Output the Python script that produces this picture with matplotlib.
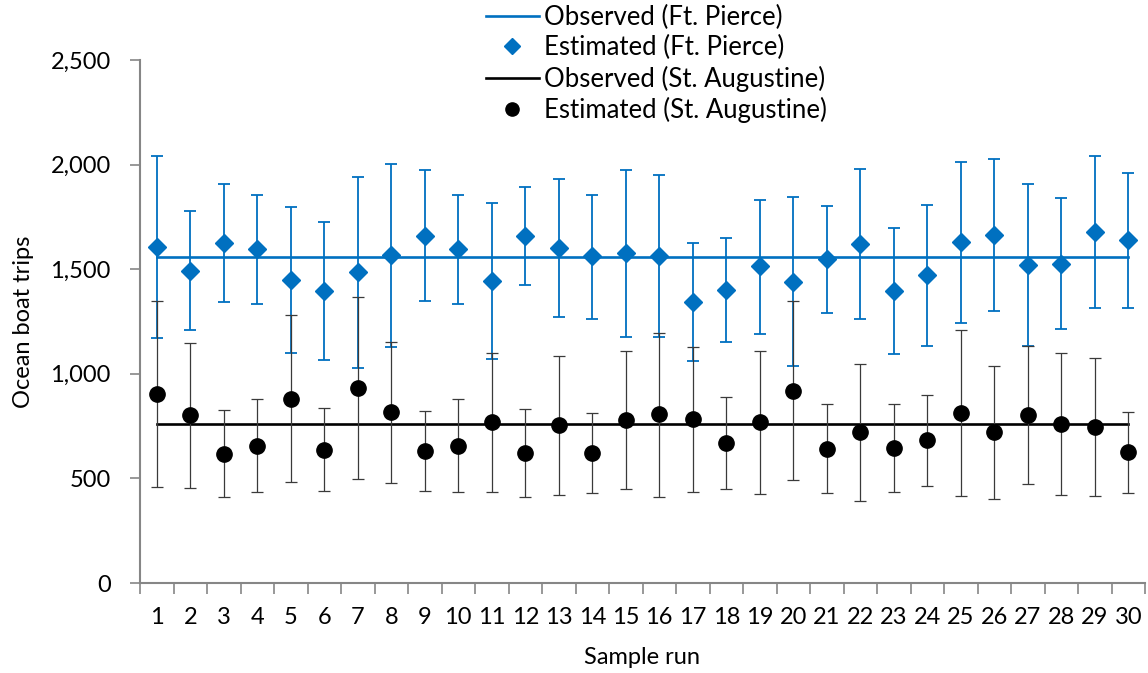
"""
Ocean boat trips: observed vs estimated for Ft. Pierce and St. Augustine
over 30 sample runs, with error bars on the estimates.
"""
import numpy as np
import matplotlib
matplotlib.use("Agg")
import matplotlib.pyplot as plt
from matplotlib.lines import Line2D
from matplotlib.ticker import FuncFormatter

plt.rcParams['font.family'] = ['Lato', 'DejaVu Sans']

runs = np.arange(1, 31)

# Ft. Pierce
fp_observed = 1558
fp_est = [1607, 1491, 1625, 1595, 1447, 1396, 1486, 1566, 1658, 1595,
          1444, 1661, 1601, 1561, 1577, 1564, 1342, 1401, 1513, 1440,
          1547, 1622, 1397, 1471, 1630, 1663, 1520, 1526, 1680, 1639]
fp_low = [1173, 1210, 1343, 1335, 1099, 1067, 1030, 1130, 1347, 1335,
          1073, 1426, 1273, 1264, 1176, 1178, 1059, 1154, 1192, 1037,
          1289, 1262, 1094, 1135, 1243, 1302, 1134, 1215, 1316, 1315]
fp_high = [2041, 1776, 1909, 1857, 1798, 1728, 1943, 2003, 1973, 1857,
           1817, 1892, 1932, 1854, 1976, 1951, 1625, 1650, 1831, 1844,
           1800, 1981, 1698, 1806, 2014, 2025, 1905, 1839, 2041, 1960]

# St. Augustine
sa_observed = 762
sa_est = [903, 803, 618, 657, 879, 636, 932, 816, 631, 657,
          768, 622, 755, 622, 781, 806, 784, 669, 768, 917,
          641, 723, 647, 682, 811, 720, 803, 762, 746, 625]
sa_low = [459, 455, 409, 434, 483, 440, 498, 479, 439, 434,
          434, 410, 421, 429, 450, 412, 437, 451, 426, 490,
          429, 394, 434, 463, 415, 402, 472, 420, 415, 429]
sa_high = [1347, 1148, 827, 881, 1280, 836, 1366, 1151, 824, 881,
           1099, 831, 1086, 812, 1110, 1197, 1127, 887, 1110, 1347,
           855, 1048, 858, 901, 1208, 1035, 1134, 1099, 1075, 817]

BLUE = '#0070C0'
AXIS_GREY = '#868686'

fig = plt.figure(figsize=(11.48, 6.73), dpi=100)
ax = fig.add_axes([140 / 1148, 90 / 673, 1005 / 1148, 523 / 673])

fp_est = np.array(fp_est)
sa_est = np.array(sa_est)
fp_err = [fp_est - np.array(fp_low), np.array(fp_high) - fp_est]
sa_err = [sa_est - np.array(sa_low), np.array(sa_high) - sa_est]

ax.plot(runs, np.full(len(runs), fp_observed), color=BLUE, lw=1.9, zorder=2)
ax.errorbar(runs, fp_est, yerr=fp_err, fmt='none', ecolor=BLUE,
            elinewidth=1.3, capsize=4.5, capthick=1.3, zorder=3)
ax.plot(runs, fp_est, 'D', color=BLUE, markersize=9.5, zorder=4)

ax.plot(runs, np.full(len(runs), sa_observed), color='black', lw=1.9,
        zorder=5)
ax.errorbar(runs, sa_est, yerr=sa_err, fmt='none', ecolor='#3a3a3a',
            elinewidth=0.9, capsize=4.5, capthick=0.9, zorder=6)
ax.plot(runs, sa_est, 'o', color='black', markersize=11, zorder=7)

ax.set_xlim(0.5, 30.5)
ax.set_ylim(0, 2500)
ax.set_yticks(np.arange(0, 2501, 500))
ax.yaxis.set_major_formatter(FuncFormatter(lambda v, p: f"{int(v):,}"))

# ticks at category boundaries, labels at category centres
ax.set_xticks(np.arange(0.5, 31, 1))
ax.set_xticklabels([])
ax.set_xticks(runs, minor=True)
ax.set_xticklabels([str(r) for r in runs], minor=True)
ax.tick_params(axis='x', which='major', length=8, width=1.2,
               color=AXIS_GREY, direction='out')
ax.tick_params(axis='x', which='minor', length=0, pad=17, labelsize=17)
ax.tick_params(axis='y', length=7, width=1.2, color=AXIS_GREY, pad=14,
               labelsize=17)

for side in ['top', 'right']:
    ax.spines[side].set_visible(False)
for side in ['left', 'bottom']:
    ax.spines[side].set_color(AXIS_GREY)
    ax.spines[side].set_linewidth(1.5)

ax.set_xlabel("Sample run", fontsize=17, labelpad=14)
ax.set_ylabel("Ocean boat trips", fontsize=17, labelpad=12)

handles = [
    Line2D([], [], color=BLUE, lw=1.9),
    Line2D([], [], color=BLUE, marker='D', ls='none', markersize=8.5),
    Line2D([], [], color='black', lw=1.9),
    Line2D([], [], color='black', marker='o', ls='none', markersize=9.5),
]
labels = ["Observed (Ft. Pierce)", "Estimated (Ft. Pierce)",
          "Observed (St. Augustine)", "Estimated (St. Augustine)"]
fig.legend(handles, labels, loc='upper left',
           bbox_to_anchor=(486 / 1148, 1 - 5 / 673),
           bbox_transform=fig.transFigure, frameon=False, fontsize=18.5,
           handlelength=2.05, handletextpad=0.2, labelspacing=0.2,
           borderpad=0, borderaxespad=0)

fig.savefig("out.png", dpi=100)
